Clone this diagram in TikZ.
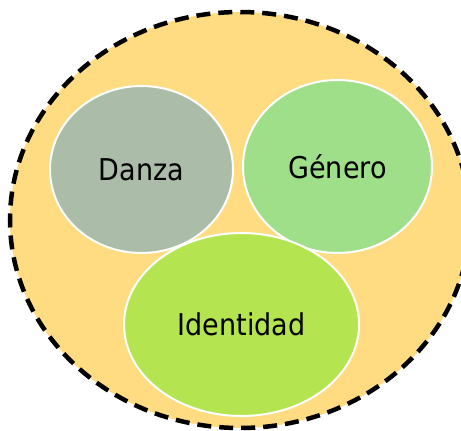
\documentclass[tikz,border=0pt]{standalone}
\usepackage{fontspec}
\setmainfont{DejaVu Sans Condensed}
\usetikzlibrary{shapes.geometric}
\definecolor{outerfill}{HTML}{FFDC82}
\definecolor{danzafill}{HTML}{ABBCA8}
\definecolor{generofill}{HTML}{A0DF8A}
\definecolor{identfill}{HTML}{B4E450}
\begin{document}
\begin{tikzpicture}[
        x=1pt, y=-1pt,
        E/.style={ellipse, draw=white, line width=2pt, inner sep=0pt,
            font=\fontsize{30}{33}\selectfont, text=black},
        outer/.style={ellipse, draw=black, fill=outerfill, line width=4.5pt,
            dash pattern=on 14pt off 8pt}
    ]
    \useasboundingbox (0,0) rectangle (461,431);

    % outer set
    \node[outer, minimum width=460pt, minimum height=416pt] (all) at (240,220) {};

    \node[E, fill=danzafill, minimum width=183pt, minimum height=167pt] (danza) at (141.5,169.5) {Danza};
    \node[E, fill=generofill, minimum width=189pt, minimum height=173pt] (genero) at (337.5,166.5) {Género};
    \node[E, fill=identfill, minimum width=235pt, minimum height=183pt] (ident) at (241.5,324.5) {Identidad};
\end{tikzpicture}
\end{document}
